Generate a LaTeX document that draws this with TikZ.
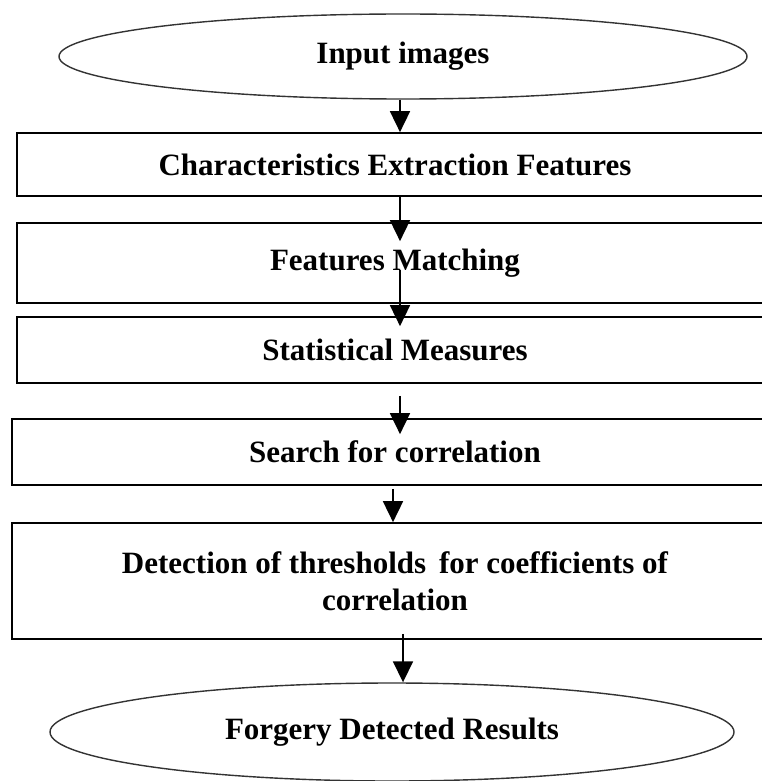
\documentclass[tikz,border=0pt]{standalone}
\usepackage{fontspec}
\setmainfont{Liberation Serif}
\usetikzlibrary{shapes.geometric,arrows.meta,calc}
\begin{document}
\begin{tikzpicture}[x=1pt,y=-1pt,
  txt/.style={font=\fontsize{31}{37}\selectfont\bfseries,align=center,inner sep=0pt},
  stepbox/.style={txt,draw,line width=1.7pt,rectangle},
  term/.style={txt,draw=black!80,line width=1.4pt,ellipse},
  arr/.style={line width=1.7pt,-{Triangle[length=21pt,width=20pt]}}]
\useasboundingbox (0,0) rectangle (762,781);
\clip (0,0) rectangle (762,781);
\node[term,minimum width=688pt,minimum height=85pt] (e1) at (403,56.5) {Input images};
\node[stepbox,minimum width=756pt,minimum height=63pt] (b1) at (395,164.5) {Characteristics Extraction Features};
\node[stepbox,minimum width=756pt,minimum height=80pt] (b2) at (395,263) {Features Matching};
\node[stepbox,minimum width=756pt,minimum height=66pt] (b3) at (395,350) {Statistical Measures};
\node[stepbox,minimum width=766pt,minimum height=66pt] (b4) at (395,452) {Search for correlation};
\node[stepbox,minimum width=766pt,minimum height=116pt] (b5) at (395,581) {Detection of thresholds\, for coefficients of\\correlation};
\node[term,minimum width=684pt,minimum height=98pt] (e2) at (392,732) {Forgery Detected Results};
\coordinate (s3) at ($(b2.center)+(5,7)$);
\coordinate (s4) at ($(b3.south)+(5,12)$);
\coordinate (s5) at ($(b4.south)+(-2,3)$);
\coordinate (s6) at ($(b5.south)+(8,-6)$);
\draw[arr] ($(e1.south)+(-3,0)$) -- ($(e1.south |- b1.north)+(-3,0)$);
\draw[arr] ($(b1.south)+(5,0)$) -- ($(b2.north)+(5,19)$);
\draw[arr] (s3) -- ($(b3.north)+(5,10)$);
\draw[arr] (s4) -- ($(b4.north)+(5,16)$);
\draw[arr] (s5) -- ($(b5.north)+(-2,0)$);
\draw[arr] (s6) -- (s6 |- e2.north);
\end{tikzpicture}
\end{document}
